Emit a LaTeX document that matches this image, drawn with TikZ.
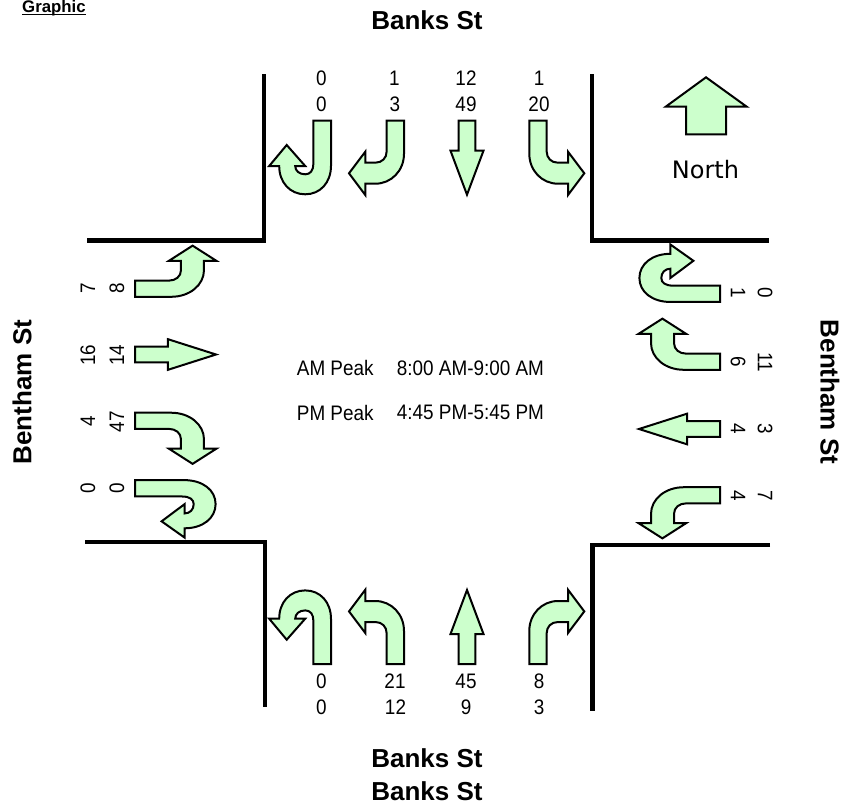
\documentclass[tikz,border=0pt]{standalone}
\usepackage{fontspec}
\setmainfont{Liberation Sans}
\newfontfamily\numfont[FakeStretch=0.9]{Liberation Sans}
\newfontfamily\northfont{DejaVu Sans}
\definecolor{arrowfill}{HTML}{CCFFCC}
\tikzset{
  turnarrow/.style={draw=black,fill=arrowfill,line width=2pt,line join=miter},
  street/.style={draw=black,line width=4.5pt,line join=miter,line cap=butt},
  cnt/.style={inner sep=0pt,font=\fontsize{21}{24}\selectfont\numfont},
  road/.style={inner sep=0pt,font=\fontsize{26}{30}\selectfont\bfseries},
  cntL/.style={cnt,rotate=90},
  cntR/.style={cnt,rotate=-90},
}
\newcommand\ArrThru[1]{\draw[turnarrow,#1] (-8.4,0) -- (-8.4,30) -- (-16.5,30) -- (0,74) -- (16.5,30) -- (8.4,30) -- (8.4,0) -- cycle;}
\newcommand\ArrTurn[1]{\draw[turnarrow,#1] (-8.7,0) -- (-8.7,33) .. controls (-8.7,50) and (4,63) .. (20,63) -- (30,63) -- (30,74.3) -- (46.3,52.6) -- (30,31) -- (30,42) -- (20,42) .. controls (13,42) and (8.7,37) .. (8.7,31) -- (8.7,0) -- cycle;}
\newcommand\ArrU[1]{\draw[turnarrow,#1] (-8.8,0) -- (-8.8,43) .. controls (-8.8,50) and (-12,53.6) .. (-17,53.6) .. controls (-23,53.6) and (-27,50) .. (-27,45.3) -- (-17,45.3) -- (-35.5,24.3) -- (-53,45.3) -- (-43,45.3) .. controls (-43,62) and (-32,73.6) .. (-17,73.6) .. controls (-2,73.6) and (8.8,62) .. (8.8,45) -- (8.8,0) -- cycle;}
\begin{document}
\begin{tikzpicture}[x=1pt,y=-1pt]
\useasboundingbox (0,0) rectangle (843,809);
% kerb lines
\draw[street] (264,74) -- (264,240.5) -- (87,240.5);
\draw[street] (592,74) -- (592,240.5) -- (769,240.5);
\draw[street] (85,542) -- (265,542) -- (265,707);
\draw[street] (770,545) -- (592.5,545) -- (592.5,711);
% top approach
\ArrU{shift={(322.2,120.7)}}
\ArrTurn{shift={(395.3,120.7)},xscale=-1}
\ArrThru{shift={(467,120.7)}}
\ArrTurn{shift={(538,120.7)}}
% bottom approach
\ArrU{shift={(322.2,664)},yscale=-1}
\ArrTurn{shift={(395.3,664)},xscale=-1,yscale=-1}
\ArrThru{shift={(467,664)},yscale=-1}
\ArrTurn{shift={(538,664)},yscale=-1}
% left approach
\ArrTurn{shift={(135,288.7)},rotate=90,xscale=.93,yscale=1.095}
\ArrThru{shift={(135,354.5)},rotate=90,xscale=.93,yscale=1.095}
\ArrTurn{shift={(135,420.8)},rotate=90,xscale=-.93,yscale=1.095}
\ArrU{shift={(135,488.3)},rotate=90,xscale=.93,yscale=1.095}
% right approach
\ArrU{shift={(720,293.8)},rotate=-90,xscale=.93,yscale=1.095}
\ArrTurn{shift={(720,361.7)},rotate=-90,xscale=-.93,yscale=1.095}
\ArrThru{shift={(720,429)},rotate=-90,xscale=.93,yscale=1.095}
\ArrTurn{shift={(720,495.3)},rotate=-90,xscale=.93,yscale=1.095}
% north arrow
\draw[turnarrow] (686,134.3) -- (686,106.7) -- (665.7,106.7) -- (706,77.3) -- (746.7,106.7) -- (726,106.7) -- (726,134.3) -- cycle;
\node[inner sep=0pt,font=\fontsize{24}{28}\selectfont\northfont] (north) at (705.5,170) {North};
% top counts
\node[cnt] (ta1) at (321.5,78) {0};
\node[cnt] (ta2) at (394.5,78) {1};
\node[cnt] (ta3) at (466,78) {12};
\node[cnt] (ta4) at (539,78) {1};
\node[cnt] (tb1) at (321.5,104) {0};
\node[cnt] (tb2) at (395,104) {3};
\node[cnt] (tb3) at (466,104) {49};
\node[cnt] (tb4) at (539,104) {20};
% bottom counts
\node[cnt] (ba1) at (321.5,681) {0};
\node[cnt] (ba2) at (395,681) {21};
\node[cnt] (ba3) at (466,681) {45};
\node[cnt] (ba4) at (539,681) {8};
\node[cnt] (bb1) at (321.5,707) {0};
\node[cnt] (bb2) at (395.5,707) {12};
\node[cnt] (bb3) at (466,707) {9};
\node[cnt] (bb4) at (539,707) {3};
% left counts
\node[cntL] (la1) at (88,288) {7};
\node[cntL] (la2) at (117,288) {8};
\node[cntL] (lb1) at (88,355) {16};
\node[cntL] (lb2) at (117,355) {14};
\node[cntL] (lc1) at (88,421.5) {4};
\node[cntL] (lc2) at (117,421.5) {47};
\node[cntL] (ld1) at (88,488) {0};
\node[cntL] (ld2) at (117,488) {0};
% right counts
\node[cntR] (ra1) at (765,293) {0};
\node[cntR] (ra2) at (738,293) {1};
\node[cntR] (rb1) at (765,362) {11};
\node[cntR] (rb2) at (738,362) {6};
\node[cntR] (rc1) at (765,429) {3};
\node[cntR] (rc2) at (738,429) {4};
\node[cntR] (rd1) at (765,496) {7};
\node[cntR] (rd2) at (738,496) {4};
% centre text
\node[cnt,anchor=west] (amlabel) at (296.7,368) {AM Peak};
\node[cnt,anchor=west] (amtime) at (396.7,368) {8:00 AM-9:00 AM};
\node[cnt,anchor=west] (pmlabel) at (296.7,412.7) {PM Peak};
\node[cnt,anchor=west] (pmtime) at (396.7,412.7) {4:45 PM-5:45 PM};
% street names
\node[road] (banks1) at (427,20) {Banks St};
\node[road] (banks2) at (427,758) {Banks St};
\node[road] (banks3) at (427,791) {Banks St};
\node[road,rotate=90] (bentham1) at (22,392) {Bentham St};
\node[road,rotate=-90] (bentham2) at (830,392) {Bentham St};
\node[anchor=base west,inner sep=0pt,font=\fontsize{16.8}{20}\selectfont\bfseries] (graphic) at (22,12.6) {Graphic};
\draw[line width=1.2pt] (graphic.base west) ++(0,2) -- ++(64,0);
\end{tikzpicture}
\end{document}
